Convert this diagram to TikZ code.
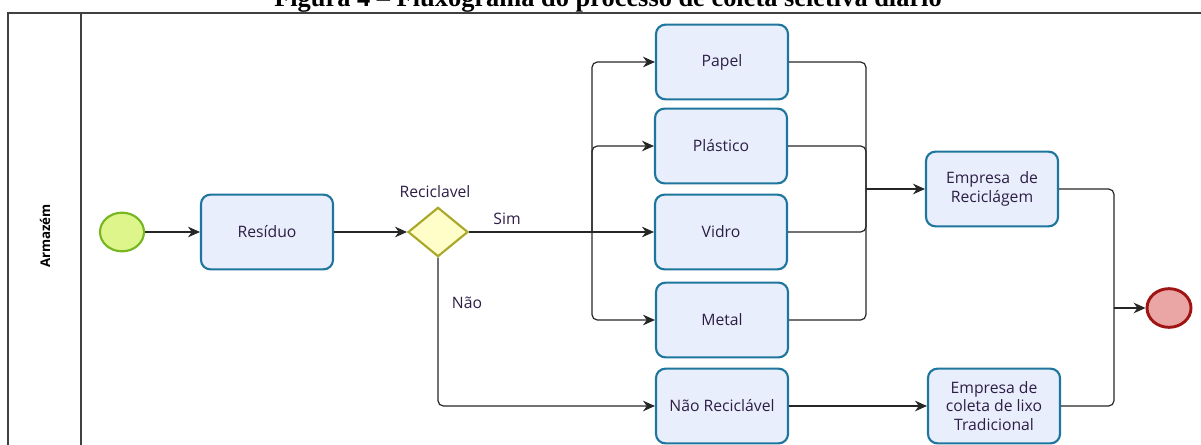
\documentclass[tikz,border=0pt]{standalone}
\usepackage{fontspec}
\setmainfont{Open Sans}
\newfontfamily\titlefont{Liberation Serif}
\usetikzlibrary{arrows.meta,shapes.geometric}

\definecolor{taskfill}{RGB}{233,238,252}
\definecolor{taskline}{RGB}{30,118,158}
\definecolor{startfill}{RGB}{222,245,140}
\definecolor{startline}{RGB}{118,182,30}
\definecolor{endfill}{RGB}{234,165,165}
\definecolor{endline}{RGB}{160,20,20}
\definecolor{gatefill}{RGB}{255,253,200}
\definecolor{gateline}{RGB}{170,168,40}
\definecolor{txt}{RGB}{45,30,70}

\tikzset{
	task/.style={draw=taskline,fill=taskfill,line width=1.6pt,rounded corners=7pt,
		minimum width=99pt,minimum height=56pt,align=center,text=txt,
		font=\fontsize{11.8}{14}\selectfont},
	event/.style={ellipse,minimum width=33pt,minimum height=29pt,inner sep=0pt},
	gateway/.style={diamond,draw=gateline,fill=gatefill,line width=1.6pt,
		minimum width=45pt,minimum height=37pt,inner sep=0pt,aspect=1.2},
	lbl/.style={text=txt,font=\fontsize{11.8}{14}\selectfont},
	line/.style={draw=black!85,line width=0.9pt,rounded corners=4pt},
	flow/.style={line,-{Stealth[length=9pt,width=8pt]}},
	pool/.style={draw=black!75,line width=1.3pt}
}

\begin{document}
\begin{tikzpicture}[x=0.75pt,y=-0.75pt]
	\useasboundingbox (0,0) rectangle (1201,445);

	% Title (cut off at the top)
	\node[anchor=base,font=\titlefont\bfseries\fontsize{19.8}{22}\selectfont] (title) at (608,7)
		{Figura 4 – Fluxograma do processo de coleta seletiva diário};

	% Pool and lane
	\draw[pool] (1201,13) -- (8,13) -- (8,445);
	\draw[pool] (81,13) -- (81,445);
	\node[rotate=90,font=\bfseries\fontsize{10}{12}\selectfont] (lane) at (45,236) {Armazém};

	% Events, tasks and gateway
	\node[event,draw=startline,fill=startfill,line width=1.6pt] (start) at (122,232) {};
	\node[task] (res) at (267,232) {Resíduo};
	\node[gateway] (gate) at (438,232) {};
	\node[task] (papel) at (722,62) {Papel};
	\node[task] (plast) at (721,146) {Plástico};
	\node[task] (vidro) at (721,232) {Vidro};
	\node[task] (metal) at (722,320) {Metal};
	\node[task] (nrec) at (722,406) {Não Reciclável};
	\node[task] (emprec) at (992,189) {Empresa\,\, de\\Reciclágem};
	\node[task] (empcol) at (994,406) {Empresa de\\coleta de lixo\\Tradicional};
	\node[event,draw=endline,fill=endfill,line width=2.2pt] (end) at (1169,308) {};

	% Labels
	\node[lbl] (reclbl) at (435,192) {Reciclavel};
	\node[lbl] (sim) at (507,219) {Sim};
	\node[lbl] (nao) at (467,303) {Não};

	\coordinate (split) at (592,232);
	\coordinate (join) at (866,189);
	\coordinate (join2) at (1114,308);

	% Sequence flows
	\draw[flow] (start) -- (res);
	\draw[flow] (res) -- (gate);
	\draw[line] (gate.east) -- (split);
	\draw[flow] (split) |- (papel);
	\draw[flow] (split) |- (plast);
	\draw[flow] (split) -- (vidro);
	\draw[flow] (split) |- (metal);
	\draw[line] (papel) -| (join);
	\draw[line] (plast) -| (join);
	\draw[line] (vidro) -| (join);
	\draw[line] (metal) -| (join);
	\draw[flow] (join) -- (emprec);
	\draw[flow] (gate.south) |- (nrec);
	\draw[flow] (nrec) -- (empcol);
	\draw[line] (emprec) -| (join2);
	\draw[line] (empcol) -| (join2);
	\draw[flow] (join2) -- (end);

\end{tikzpicture}
\end{document}
